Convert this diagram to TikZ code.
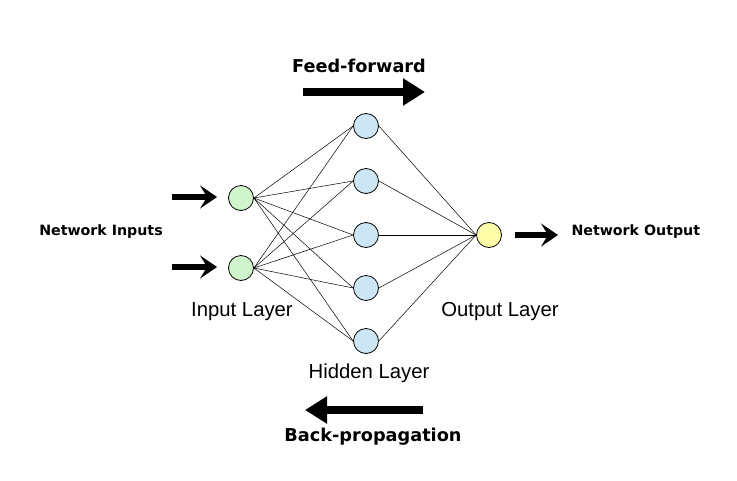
\documentclass[tikz,border=0pt]{standalone}
\usepackage{fontspec}
\setmainfont{Liberation Sans}
\newfontfamily\boldfont{DejaVu Sans}[BoldFont={DejaVu Sans Bold}]
\usetikzlibrary{arrows.meta}
\tikzset{
  neuron/.style={circle,draw=black,line width=0.8pt,minimum size=25pt,inner sep=0pt},
  inp/.style={neuron,fill={rgb,255:red,208;green,244;blue,204}},
  hid/.style={neuron,fill={rgb,255:red,204;green,230;blue,245}},
  outn/.style={neuron,fill={rgb,255:red,255;green,255;blue,170}},
  link/.style={draw=black,line width=0.5pt},
  smallarrow/.style={line width=6pt,-{Stealth[length=17pt,width=23pt,inset=7pt]}},
  bigarrow/.style={line width=8pt,-{Triangle[length=22pt,width=26pt]}},
  boldlbl/.style={font=\boldfont\bfseries\fontsize{14.2}{16}\selectfont},
  titlelbl/.style={font=\boldfont\bfseries\fontsize{17.7}{20}\selectfont},
  layerlbl/.style={font=\fontsize{20.3}{23}\selectfont}
}
\begin{document}
\begin{tikzpicture}[x=1pt,y=-1pt]
\useasboundingbox (0,0) rectangle (737,480);
\fill[white] (0,0) rectangle (737,480);
% nodes
\node[inp] (i1) at (241,198) {};
\node[inp] (i2) at (241,268) {};
\node[hid] (h1) at (366,126) {};
\node[hid] (h2) at (366,181) {};
\node[hid] (h3) at (366,235) {};
\node[hid] (h4) at (366,288) {};
\node[hid] (h5) at (366,341) {};
\node[outn] (o) at (489,235) {};
% connections
\foreach \i in {i1,i2}{
  \foreach \h in {h1,h2,h3,h4,h5}{
    \draw[link] (\i.east) -- (\h.west);
  }
}
\foreach \h in {h1,h2,h3,h4,h5}{
  \draw[link] (\h.east) -- (o.west);
}
% input / output arrows
\coordinate (a1) at (172,197);
\coordinate (a2) at (172,267);
\coordinate (b1) at (558,235);
\draw[smallarrow,shorten >=11pt] (a1) -- (a1 -| i1.west);
\draw[smallarrow,shorten >=11pt] (a2) -- (a2 -| i2.west);
\draw[smallarrow,shorten <=13pt] (o.east) -- (b1);
% labels
\node[boldlbl] (ni) at (101,232) {Network Inputs};
\node[boldlbl,anchor=west] (no) at (568,232) {Network Output};
\node[layerlbl] (il) at (242,312) {Input Layer};
\node[layerlbl] (hl) at (369,373) {Hidden Layer};
\node[layerlbl] (ol) at (500,312) {Output Layer};
\node[titlelbl] (ff) at (359,66) {Feed-forward};
\node[titlelbl] (bp) at (373,437) {Back-propagation};
% big arrows
\coordinate (ffs) at (303,92);
\coordinate (ffe) at (425,92);
\coordinate (bps) at (423,410);
\coordinate (bpe) at (305,410);
\draw[bigarrow] (ffs) -- (ffe);
\draw[bigarrow] (bps) -- (bpe);
\end{tikzpicture}
\end{document}
